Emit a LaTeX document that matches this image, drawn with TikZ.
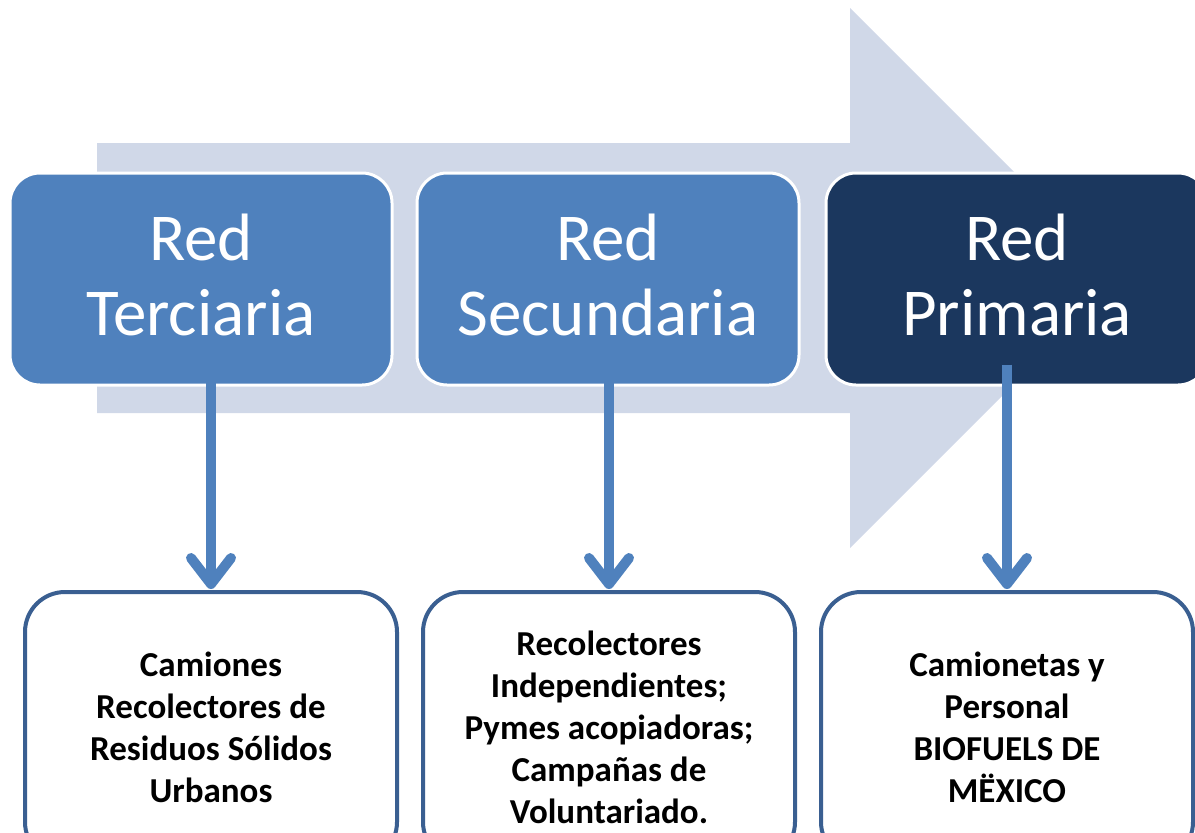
\documentclass[tikz,border=0pt]{standalone}
\usepackage{fontspec}
\setmainfont{Carlito}
\usetikzlibrary{arrows.meta,calc}
\definecolor{bgarrow}{HTML}{D0D8E8}
\definecolor{midblue}{HTML}{4F81BD}
\definecolor{navy}{HTML}{1B375E}
\definecolor{edgeblue}{HTML}{3A5F91}
\tikzset{
  topbox/.style={draw=white, line width=3pt, rounded corners=30pt,
    minimum width=382pt, minimum height=212pt, inner sep=0pt,
    text=white, align=center, text depth=8pt,
    font=\fontsize{67pt}{75pt}\selectfont},
  botbox/.style={draw=edgeblue, line width=4pt, rounded corners=40pt, fill=white,
    minimum width=372pt, minimum height=270pt, inner sep=0pt, anchor=north,
    align=center, font=\fontsize{35pt}{42pt}\selectfont\bfseries},
  downarr/.style={draw=midblue, line width=10pt,
    -{Straight Barb[length=26pt,width=40pt,line cap=round,line join=round]}}
}
\begin{document}
\begin{tikzpicture}[x=1pt,y=-1pt]
\useasboundingbox (0,0) rectangle (1195,833);
\clip (0,0) rectangle (1195,833);
% big background arrow
\fill[bgarrow] (97,143) -- (850,143) -- (850,8) -- (1120,278) -- (850,548) -- (850,413) -- (97,413) -- cycle;
% top boxes
\node[topbox, fill=midblue] (t1) at (201,279) {Red\\Terciaria};
\node[topbox, fill=midblue] (t2) at (608,279) {Red\\Secundaria};
\node[topbox, fill=navy] (t3) at (1017,279) {Red\\Primaria};
% bottom boxes
\node[botbox] (b1) at (211,590) {Camiones\\Recolectores de\\Residuos Sólidos\\Urbanos};
\node[botbox] (b2) at (609,590) {Recolectores\\Independientes;\\Pymes acopiadoras;\\Campañas de\\Voluntariado.};
\node[botbox] (b3) at (1007,590) {Camionetas y\\Personal\\ BIOFUELS DE\\MËXICO};
% connectors
\coordinate (s1) at ($(t1.south -| b1.north)+(0,-22)$);
\coordinate (s2) at ($(t2.south -| b2.north)+(0,-22)$);
\coordinate (s3) at ($(t3.south -| b3.north)+(0,-22)$);
\draw[downarr] (s1) -- ($(b1.north)+(0,-1)$);
\draw[downarr] (s2) -- ($(b2.north)+(0,-1)$);
\draw[downarr] (s3) -- ($(b3.north)+(0,-1)$);
\end{tikzpicture}
\end{document}
